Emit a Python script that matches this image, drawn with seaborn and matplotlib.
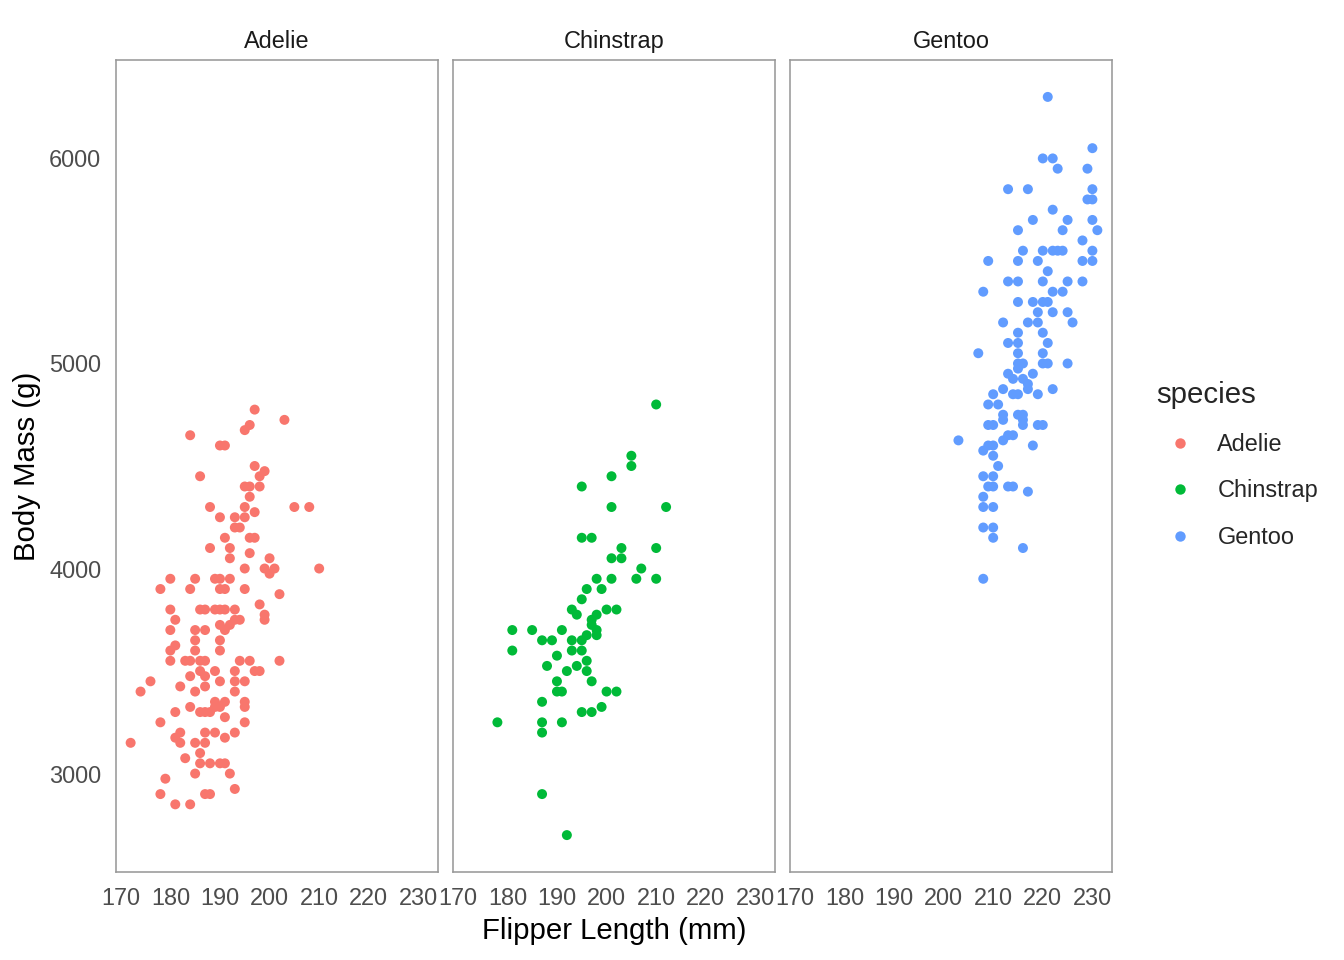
import matplotlib
matplotlib.use('Agg')

import pandas as pd
import matplotlib.pyplot as plt
from matplotlib.lines import Line2D
import seaborn as sns

# data (flipper length mm, body mass g)
adelie_flipper = [197, 203, 196, 195, 184, 190, 191, 197, 199, 198, 186, 195, 196, 198, 196, 188, 195, 205, 208, 197,
                  190, 193, 195, 193, 194, 191, 196, 197, 188, 192, 196, 192, 200, 195, 199, 201, 200, 210, 180, 185,
                  189, 190, 192, 178, 184, 190, 191, 195, 202,
                  198, 180, 186, 187, 189, 190, 191, 193, 199, 199, 181, 194, 193, 190, 192, 191, 180, 185, 187, 185,
                  190, 181, 180, 185, 190, 180, 183, 184, 186, 187, 194, 196, 202, 186, 187, 189, 193, 197, 198, 184,
                  176, 193, 195, 190, 182, 187, 174, 185, 193, 189, 191, 190, 189, 186, 187, 188, 195, 195, 184, 181,
                  191, 178, 195, 182, 181, 182, 187, 189, 193, 191, 172, 185, 187, 186, 183, 186, 188, 190, 191, 185,
                  192, 179, 193, 178, 187, 188, 181, 184]
adelie_mass = [4775, 4725, 4700, 4675, 4650, 4600, 4600, 4500, 4475, 4450, 4450, 4400, 4400, 4400, 4350, 4300, 4300, 4300, 4300, 4275,
               4250, 4250, 4250, 4200, 4200, 4150, 4150, 4150, 4100, 4100, 4075, 4050, 4050, 4000, 4000, 4000, 3975, 4000, 3950, 3950,
               3950, 3950, 3950, 3900, 3900, 3900, 3900, 3900, 3875,
               3825, 3800, 3800, 3800, 3800, 3800, 3800, 3800, 3775, 3750, 3750, 3750, 3750, 3725, 3725, 3700, 3700, 3700, 3700, 3650,
               3650, 3625, 3600, 3600, 3600, 3550, 3550, 3550, 3550, 3550, 3550, 3550, 3550, 3500, 3475, 3500, 3500, 3500, 3500, 3475,
               3450, 3450, 3450, 3450, 3425, 3425, 3400, 3400, 3400, 3350, 3350, 3325, 3325, 3300, 3300, 3300, 3350, 3325, 3325, 3300,
               3275, 3250, 3250, 3200, 3175, 3150, 3200, 3200, 3200, 3175, 3150, 3150, 3150, 3100, 3075, 3050, 3050, 3050, 3050, 3000,
               3000, 2975, 2925, 2900, 2900, 2900, 2850, 2850]

chinstrap_flipper = [210, 205, 205, 201, 195, 201, 212, 195, 197, 203, 210, 201, 203, 207, 198, 201, 206, 210, 196, 199,
                     195, 193, 194, 200, 202, 198, 197, 197, 198, 198, 196, 195, 181, 185, 191, 187, 189, 193, 181, 193,
                     195, 190, 196, 188, 194, 192, 196, 190, 197, 190, 191, 200, 202, 187, 199, 195, 197, 178, 187, 191,
                     187, 187, 192]
chinstrap_mass = [4800, 4550, 4500, 4450, 4400, 4300, 4300, 4150, 4150, 4100, 4100, 4050, 4050, 4000, 3950, 3950, 3950, 3950, 3900, 3900,
                  3850, 3800, 3775, 3800, 3800, 3775, 3750, 3725, 3700, 3675, 3675, 3650, 3700, 3700, 3700, 3650, 3650, 3650, 3600, 3600,
                  3600, 3575, 3550, 3525, 3525, 3500, 3500, 3450, 3450, 3400, 3400, 3400, 3400, 3350, 3325, 3300, 3300, 3250, 3250, 3250,
                  3200, 2900, 2700]

gentoo_flipper = [221, 230, 220, 222, 223, 229, 213, 217, 230, 229, 230, 222, 218, 225, 230, 215, 224, 231, 228, 216,
                  220, 222, 223, 224, 230, 209, 215, 219, 228, 230, 221, 213, 215, 220, 225, 228, 208, 222, 224, 215,
                  218, 220, 221, 219, 222, 225, 212, 217, 219, 226, 215, 220, 213, 215, 221, 207, 215, 220, 215, 216,
                  220, 221, 225, 215, 213, 218, 214, 216, 217, 212, 217, 222, 210, 214, 215, 219, 209, 211, 212, 215,
                  216, 212, 216, 216, 209, 210, 219, 220, 212, 213, 214, 203, 209, 210, 208, 218, 210, 211, 208, 210,
                  209, 210, 213, 214, 217, 208, 208, 210, 208, 210, 210, 216, 208]
gentoo_mass = [6300, 6050, 6000, 6000, 5950, 5950, 5850, 5850, 5850, 5800, 5800, 5750, 5700, 5700, 5700, 5650, 5650, 5650, 5600, 5550,
               5550, 5550, 5550, 5550, 5550, 5500, 5500, 5500, 5500, 5500, 5450, 5400, 5400, 5400, 5400, 5400, 5350, 5350, 5350, 5300,
               5300, 5300, 5300, 5250, 5250, 5250, 5200, 5200, 5200, 5200, 5150, 5150, 5100, 5100, 5100, 5050, 5050, 5050, 5000, 5000,
               5000, 5000, 5000, 4975, 4950, 4950, 4925, 4925, 4900, 4875, 4875, 4875, 4850, 4850, 4850, 4850, 4800, 4800, 4750, 4750,
               4750, 4725, 4725, 4700, 4700, 4700, 4700, 4700, 4625, 4650, 4650, 4625, 4600, 4600, 4575, 4600, 4550, 4500, 4450, 4450,
               4400, 4400, 4400, 4400, 4375, 4350, 4300, 4300, 4200, 4200, 4150, 4100, 3950]

species = ['Adelie', 'Chinstrap', 'Gentoo']
colors = {'Adelie': '#F8766D', 'Chinstrap': '#00BA38', 'Gentoo': '#619CFF'}
x_ticks = [170, 180, 190, 200, 210, 220, 230]
y_ticks = [3000, 4000, 5000, 6000]

df = pd.concat([
    pd.DataFrame({'flipper': adelie_flipper, 'mass': adelie_mass, 'species': 'Adelie'}),
    pd.DataFrame({'flipper': chinstrap_flipper, 'mass': chinstrap_mass, 'species': 'Chinstrap'}),
    pd.DataFrame({'flipper': gentoo_flipper, 'mass': gentoo_mass, 'species': 'Gentoo'}),
], ignore_index=True)

sns.set_style('white')
plt.rcParams['font.family'] = ['Liberation Sans', 'DejaVu Sans']

W, H = 1344, 960
fig = plt.figure(figsize=(7, 5), dpi=192)

lefts = [116, 453, 790]
pw, top, bottom = 322, 60, 872
for i, sp in enumerate(species):
    ax = fig.add_axes([lefts[i] / W, 1 - bottom / H, pw / W, (bottom - top) / H])
    sub = df[df['species'] == sp]
    sns.scatterplot(data=sub, x='flipper', y='mass', hue='species', palette=colors,
                    s=14, linewidth=0, legend=False, ax=ax)
    ax.set_xlim(169.05, 233.95)
    ax.set_ylim(2520, 6480)
    ax.set_xticks(x_ticks)
    ax.set_yticks(y_ticks)
    ax.tick_params(length=0, pad=5.5, labelsize=8.8, colors='#4D4D4D')
    if i > 0:
        ax.set_yticklabels([])
    ax.set_xlabel('')
    ax.set_ylabel('')
    ax.set_title(sp, fontsize=8.8, color='#1A1A1A', pad=4.5)
    for s in ax.spines.values():
        s.set_color('#999999')
        s.set_linewidth(0.6)
    ax.grid(False)

fig.text(614 / W, 1 - 931 / H, 'Flipper Length (mm)', ha='center', va='center', fontsize=11, color='black')
fig.text(27 / W, 1 - 466 / H, 'Body Mass (g)', ha='center', va='center', rotation=90, fontsize=11, color='black')

handles = [Line2D([], [], marker='o', linestyle='', markersize=3.9, markeredgewidth=0,
                  markerfacecolor=colors[sp]) for sp in species]
leg = fig.legend(handles, species, title='species', loc='upper left',
                 bbox_to_anchor=(1147 / W, 1 - 372 / H), frameon=False,
                 fontsize=8.8, title_fontsize=11, labelspacing=1.0,
                 handletextpad=0.6, borderaxespad=0)
leg._legend_box.align = 'left'

fig.savefig('out.png', dpi=192, facecolor='white')
plt.close()
